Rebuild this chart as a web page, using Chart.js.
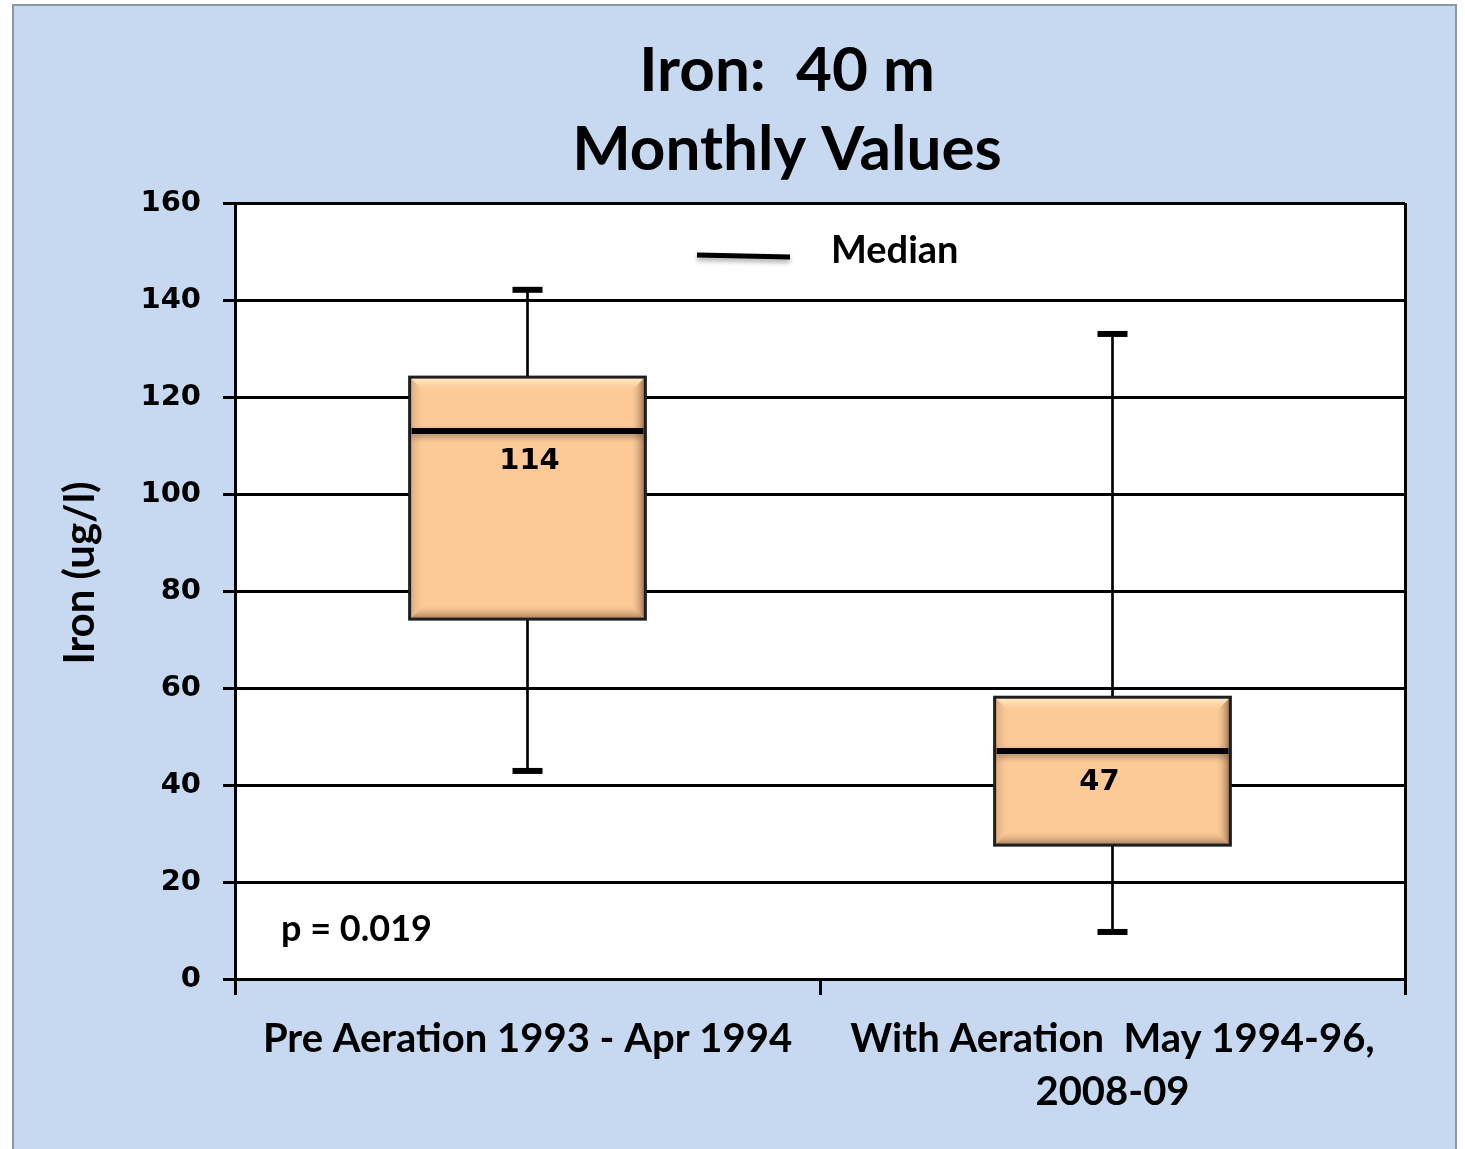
<!DOCTYPE html>
<html>
<head>
<meta charset="utf-8">
<title>Iron: 40 m - Monthly Values</title>
<script src="https://cdn.jsdelivr.net/npm/chart.js@4.4.1/dist/chart.umd.min.js"></script>
<style>
  body { margin: 0; background: #fff; }
  canvas { display: block; }
</style>
</head>
<body>
<canvas id="grafico" width="1465" height="1149"></canvas>
<script>
// dados
const categories = [
  ["Pre Aeration 1993 - Apr 1994"],
  ["With Aeration  May 1994-96,", "2008-09"]
];
const minValues = [42.9, 9.7];
const q1Values = [74.2, 27.6];
const medianValues = [113, 47];
const q3Values = [124.1, 58.1];
const maxValues = [142.1, 133];
const medianLabels = ["114", "47"];
const yTicks = [0, 20, 40, 60, 80, 100, 120, 140, 160];

const titleLines = ["Iron:  40 m", "Monthly Values"];
const yTitle = "Iron (ug/l)";
const pValueText = "p = 0.019";
const legendText = "Median";

const PEACH = "#fdca97";
const TITLE_FONT = "Lato";
const NUM_FONT = "DejaVu Sans";

const whiskerData = minValues.map((v, i) => [v, maxValues[i]]);
const boxData = q1Values.map((v, i) => [v, q3Values[i]]);

// fundo azul, moldura e area branca
const backdrop = {
  id: "backdrop",
  beforeDraw(chart) {
    const { ctx, chartArea } = chart;
    ctx.save();
    ctx.fillStyle = "#ffffff";
    ctx.fillRect(0, 0, chart.width, chart.height);
    ctx.fillStyle = "#c6d9f0";
    ctx.fillRect(13, 5, 1443, chart.height);
    ctx.strokeStyle = "#8f99a6";
    ctx.lineWidth = 2;
    ctx.strokeRect(13, 5, 1443, chart.height + 10);
    ctx.fillStyle = "#ffffff";
    ctx.fillRect(chartArea.left, chartArea.top, chartArea.right - chartArea.left, chartArea.bottom - chartArea.top);
    ctx.restore();
  }
};

function bevel(ctx, L, T, R, B) {
  const d = 15;
  ctx.save();
  let g = ctx.createLinearGradient(0, T, 0, T + d);
  g.addColorStop(0, "#fff4d2");
  g.addColorStop(1, "rgba(253,202,151,0)");
  ctx.fillStyle = g;
  ctx.beginPath();
  ctx.moveTo(L, T); ctx.lineTo(R, T); ctx.lineTo(R - d, T + d); ctx.lineTo(L + d, T + d);
  ctx.closePath(); ctx.fill();

  g = ctx.createLinearGradient(0, B, 0, B - d);
  g.addColorStop(0, "#9c7656");
  g.addColorStop(1, "rgba(253,202,151,0)");
  ctx.fillStyle = g;
  ctx.beginPath();
  ctx.moveTo(L, B); ctx.lineTo(R, B); ctx.lineTo(R - d, B - d); ctx.lineTo(L + d, B - d);
  ctx.closePath(); ctx.fill();

  g = ctx.createLinearGradient(L, 0, L + d, 0);
  g.addColorStop(0, "#d3a27a");
  g.addColorStop(1, "rgba(253,202,151,0)");
  ctx.fillStyle = g;
  ctx.beginPath();
  ctx.moveTo(L, T); ctx.lineTo(L + d, T + d); ctx.lineTo(L + d, B - d); ctx.lineTo(L, B);
  ctx.closePath(); ctx.fill();

  g = ctx.createLinearGradient(R, 0, R - d, 0);
  g.addColorStop(0, "#8a664a");
  g.addColorStop(1, "rgba(253,202,151,0)");
  ctx.fillStyle = g;
  ctx.beginPath();
  ctx.moveTo(R, T); ctx.lineTo(R - d, T + d); ctx.lineTo(R - d, B - d); ctx.lineTo(R, B);
  ctx.closePath(); ctx.fill();

  ctx.strokeStyle = "#1e1e1e";
  ctx.lineWidth = 3;
  ctx.strokeRect(L, T, R - L, B - T);
  ctx.restore();
}

// caixas: bisel, mediana, extremos e rotulos
const boxExtras = {
  id: "boxExtras",
  afterDatasetsDraw(chart) {
    const { ctx } = chart;
    const x = chart.scales.x;
    const y = chart.scales.y;
    const boxes = chart.getDatasetMeta(0).data;

    for (let i = 0; i < categories.length; i++) {
      const el = boxes[i];
      const L = el.x - el.width / 2;
      const R = el.x + el.width / 2;
      const T = y.getPixelForValue(q3Values[i]);
      const B = y.getPixelForValue(q1Values[i]);
      bevel(ctx, L, T, R, B);

      const cx = x.getPixelForValue(i);
      ctx.save();
      ctx.strokeStyle = "#000";
      ctx.lineWidth = 6;
      ctx.lineCap = "butt";
      for (const v of [maxValues[i], minValues[i]]) {
        const py = y.getPixelForValue(v);
        ctx.beginPath();
        ctx.moveTo(cx - 15, py);
        ctx.lineTo(cx + 15, py);
        ctx.stroke();
      }

      const my = y.getPixelForValue(medianValues[i]);
      ctx.shadowColor = "rgba(0,0,0,0.35)";
      ctx.shadowBlur = 6;
      ctx.shadowOffsetY = 3;
      ctx.beginPath();
      ctx.moveTo(L + 2, my);
      ctx.lineTo(R - 2, my);
      ctx.stroke();
      ctx.restore();

      ctx.save();
      ctx.fillStyle = "#000";
      ctx.font = "bold 29px '" + NUM_FONT + "'";
      ctx.textAlign = "center";
      ctx.textBaseline = "middle";
      const off = i === 0 ? 2 : -13;
      ctx.fillText(medianLabels[i], cx + off, my + 31);
      ctx.restore();
    }
  }
};

// titulo, titulo do eixo, legenda e valor p
const annotations = {
  id: "annotations",
  afterDraw(chart) {
    const { ctx, chartArea } = chart;
    ctx.save();
    ctx.fillStyle = "#000";
    ctx.textAlign = "center";
    ctx.textBaseline = "middle";
    ctx.font = "bold 62px '" + TITLE_FONT + "'";
    ctx.fillText(titleLines[0], 787, 71);
    ctx.fillText(titleLines[1], 787, 150);

    ctx.save();
    ctx.translate(80, 573);
    ctx.rotate(-Math.PI / 2);
    ctx.font = "bold 42px '" + TITLE_FONT + "'";
    ctx.fillText(yTitle, 0, 0);
    ctx.restore();

    ctx.textAlign = "left";
    ctx.font = "bold 38px '" + TITLE_FONT + "'";
    ctx.fillText(legendText, 831, 251);

    ctx.font = "bold 36px '" + TITLE_FONT + "'";
    ctx.fillText(pValueText, chartArea.left + 46, 929);

    ctx.strokeStyle = "#000";
    ctx.lineWidth = 5;
    ctx.shadowColor = "rgba(0,0,0,0.35)";
    ctx.shadowBlur = 5;
    ctx.shadowOffsetY = 3;
    ctx.beginPath();
    ctx.moveTo(697, 255);
    ctx.lineTo(790, 257);
    ctx.stroke();
    ctx.restore();
  }
};

new Chart(document.getElementById("grafico"), {
  type: "bar",
  data: {
    labels: categories,
    datasets: [
      {
        label: "Box",
        data: boxData,
        backgroundColor: PEACH,
        borderColor: "#1e1e1e",
        borderWidth: 0,
        borderSkipped: false,
        barPercentage: 0.403,
        categoryPercentage: 1,
        grouped: false,
        order: 0,
      },
      {
        label: "Range",
        data: whiskerData,
        backgroundColor: "#000",
        barThickness: 2,
        grouped: false,
        order: 1,
      },
    ],
  },
  options: {
    responsive: false,
    animation: false,
    layout: {
      padding: { left: 13, right: 60, top: 203, bottom: 0 },
    },
    plugins: {
      legend: { display: false },
      tooltip: { enabled: false },
      title: { display: false },
    },
    scales: {
      x: {
        offset: true,
        grid: {
          offset: true,
          drawOnChartArea: true,
          drawTicks: true,
          tickLength: 16,
          lineWidth: 3,
          color: (c) => (c.index === 1 ? "rgba(0,0,0,0)" : "#000"),
          tickColor: "#000",
        },
        border: { display: true, color: "#000", width: 3 },
        ticks: {
          color: "#000",
          autoSkip: false,
          maxRotation: 0,
          padding: 18,
          font: { family: TITLE_FONT, weight: "bold", size: 40, lineHeight: 1.32 },
        },
        afterFit: (scale) => {
          scale.height = 170;
        },
      },
      y: {
        min: 0,
        max: 160,
        afterBuildTicks: (scale) => {
          scale.ticks = yTicks.map((v) => ({ value: v }));
        },
        grid: {
          color: "#000",
          lineWidth: 3,
          tickLength: 12,
        },
        border: { display: true, color: "#000", width: 3 },
        ticks: {
          color: "#000",
          padding: 22,
          font: { family: NUM_FONT, weight: "bold", size: 29 },
        },
        afterFit: (scale) => {
          scale.width = 222;
        },
      },
    },
  },
  plugins: [backdrop, boxExtras, annotations],
});
</script>
</body>
</html>
